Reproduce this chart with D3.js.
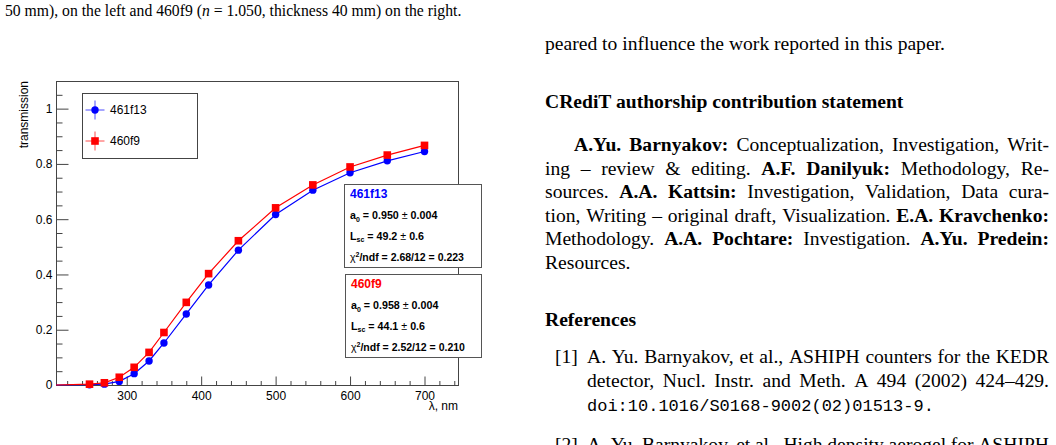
<!DOCTYPE html>
<html>
<head>
<meta charset="utf-8">
<title>Aerogel transmission</title>
<script src="https://d3js.org/d3.v7.min.js"></script>
<style>
  body { margin: 0; background: #fff; }
  .serif { font-family: "Liberation Serif", "Times New Roman", serif; }
  .sans { font-family: "Liberation Sans", Helvetica, Arial, sans-serif; }
  .mono { font-family: "Liberation Mono", "DejaVu Sans Mono", monospace; }
</style>
</head>
<body>
<script>
  // measured points, wavelength in nm
  var wavelength = [250, 270, 290, 310, 330, 350, 380, 410, 450, 500, 550, 600, 650, 700];
  var trans461f13 = [0.001, 0.003, 0.013, 0.041, 0.087, 0.152, 0.257, 0.362, 0.488, 0.617, 0.705, 0.768, 0.811, 0.845];
  var trans460f9 = [0.003, 0.008, 0.028, 0.064, 0.118, 0.190, 0.299, 0.403, 0.522, 0.641, 0.724, 0.789, 0.832, 0.867];

  var xMajor = [300, 400, 500, 600, 700];
  var yMajor = [0, 0.2, 0.4, 0.6, 0.8, 1];

  var sampleNames = ["461f13", "460f9"];
  var statA0 = ["0.950", "0.958"];
  var statA0Err = ["0.004", "0.004"];
  var statLsc = ["49.2", "44.1"];
  var statLscErr = ["0.6", "0.6"];
  var statChi = ["2.68/12 = 0.223", "2.52/12 = 0.210"];

  // page text around the figure
  var captionTail = ["50 mm), on the left and 460f9 (", "n", " = 1.050, thickness 40 mm) on the right."];
  var creditLines = [
    "**A.Yu. Barnyakov:** Conceptualization, Investigation, Writ-",
    "ing – review & editing. **A.F. Danilyuk:** Methodology, Re-",
    "sources. **A.A. Kattsin:** Investigation, Validation, Data cura-",
    "tion, Writing – original draft, Visualization. **E.A. Kravchenko:**",
    "Methodology. **A.A. Pochtare:** Investigation. **A.Yu. Predein:**",
    "Resources."
  ];
  var ref1Lines = [
    "A. Yu. Barnyakov, et al., ASHIPH counters for the KEDR",
    "detector, Nucl. Instr. and Meth. A 494 (2002) 424–429."
  ];
  var ref1Doi = "doi:10.1016/S0168-9002(02)01513-9.";
  var ref2Line = "A. Yu. Barnyakov, et al., High density aerogel for ASHIPH";

  var W = 1056, H = 445;
  var svg = d3.select("body").append("svg").attr("width", W).attr("height", H);
  svg.append("rect").attr("width", W).attr("height", H).attr("fill", "#fff");

  var bodySize = 19.6;

  //split "**bold**" markup into words made of styled pieces
  var parseWords = function(str) {
    var words = [], cur = [];
    str.split("**").forEach(function(seg, i) {
      var bold = i % 2 === 1;
      seg.split(" ").forEach(function(p, j) {
        if (j > 0) { if (cur.length) words.push(cur); cur = []; }
        if (p) cur.push({t: p, b: bold});
      });
    });
    if (cur.length) words.push(cur);
    return words;
  };

  //draw one line of words, justified between x0 and x1 if asked
  var drawLine = function(str, x0, x1, y, justify) {
    var words = parseWords(str);
    var nodes = words.map(function(w) {
      var t = svg.append("text").attr("class", "serif").attr("font-size", bodySize).attr("y", y);
      w.forEach(function(p) {
        t.append("tspan").attr("font-weight", p.b ? "bold" : "normal").text(p.t);
      });
      return t;
    });
    var widths = nodes.map(function(t) { return t.node().getComputedTextLength(); });
    var total = d3.sum(widths);
    var gap = justify && nodes.length > 1 ? (x1 - x0 - total) / (nodes.length - 1) : bodySize * 0.25;
    var x = x0;
    nodes.forEach(function(t, i) { t.attr("x", x); x += widths[i] + gap; });
  };

  //caption ending at the top left
  var cap = svg.append("text").attr("class", "serif").attr("font-size", 15.7).attr("x", 5).attr("y", 16);
  cap.append("tspan").text(captionTail[0]);
  cap.append("tspan").attr("font-style", "italic").text(captionTail[1]);
  cap.append("tspan").text(captionTail[2]);

  //right column
  var colL = 545, colR = 1049;
  drawLine("peared to influence the work reported in this paper.", colL, colR, 50, false);
  svg.append("text").attr("class", "serif").attr("font-size", bodySize).attr("font-weight", "bold")
      .attr("x", colL).attr("y", 108).text("CRediT authorship contribution statement");
  creditLines.forEach(function(l, i) {
    var last = i === creditLines.length - 1;
    drawLine(l, i === 0 ? 574 : colL, colR, 151 + i * 23.5, !last);
  });
  svg.append("text").attr("class", "serif").attr("font-size", bodySize).attr("font-weight", "bold")
      .attr("x", colL).attr("y", 326).text("References");
  svg.append("text").attr("class", "serif").attr("font-size", bodySize).attr("x", 555).attr("y", 363).text("[1]");
  ref1Lines.forEach(function(l, i) { drawLine(l, 587, colR, 363 + i * 24, true); });
  svg.append("text").attr("class", "mono").attr("font-size", 17).attr("x", 587).attr("y", 411).text(ref1Doi);
  svg.append("text").attr("class", "serif").attr("font-size", bodySize).attr("x", 555).attr("y", 451).text("[2]");
  drawLine(ref2Line, 587, colR, 451, true);

  //=== chart ===
  var fL = 56, fR = 458, fT = 81, fB = 385;
  var x = d3.scaleLinear().domain([205, 745]).range([fL, fR]);
  var y = d3.scaleLinear().domain([0, 1.1]).range([fB, fT]);
  var g = svg.append("g").attr("class", "sans");

  g.append("rect").attr("x", fL + 0.5).attr("y", fT + 0.5).attr("width", fR - fL).attr("height", fB - fT)
      .attr("fill", "none").attr("stroke", "#444");

  var xMinor = d3.range(220, 745, 20).filter(function(v) { return v % 100 !== 0; });
  var yMinor = d3.range(0.05, 1.1, 0.05).filter(function(v) { return Math.abs(v * 5 - Math.round(v * 5)) > 1e-6; });

  var gx = g.append("g").attr("transform", "translate(0," + (fB + 0.5) + ")");
  gx.call(d3.axisBottom(x).tickValues(xMajor).tickSize(-9).tickPadding(6).tickFormat(d3.format("d")));
  gx.call(function(s) { s.select(".domain").remove(); });
  var gxm = g.append("g").attr("transform", "translate(0," + (fB + 0.5) + ")");
  gxm.call(d3.axisBottom(x).tickValues(xMinor).tickSize(-4.5).tickFormat(""));
  gxm.select(".domain").remove();

  var gy = g.append("g").attr("transform", "translate(" + (fL + 0.5) + ",0)");
  gy.call(d3.axisLeft(y).tickValues(yMajor).tickSize(-12).tickPadding(4)
      .tickFormat(function(d) { return d === 0 ? "0" : d === 1 ? "1" : d3.format(".1f")(d); }));
  gy.select(".domain").remove();
  var gym = g.append("g").attr("transform", "translate(" + (fL + 0.5) + ",0)");
  gym.call(d3.axisLeft(y).tickValues(yMinor).tickSize(-6).tickFormat(""));
  gym.select(".domain").remove();

  g.selectAll(".tick text").attr("font-size", 12).attr("font-family", "Liberation Sans, Arial, sans-serif").attr("fill", "#000");
  g.selectAll(".tick line").attr("stroke", "#444");

  g.append("text").attr("x", fR).attr("y", 410).attr("text-anchor", "end").attr("font-size", 12).text("λ, nm");
  g.append("text").attr("transform", "translate(28," + fT + ") rotate(-90)").attr("text-anchor", "end")
      .attr("font-size", 12).text("transmission");

  var series = [
    {vals: trans461f13, color: "#0000ff", shape: "circle"},
    {vals: trans460f9, color: "#ff0000", shape: "square"}
  ];

  var line = d3.line().x(function(d) { return x(d[0]); }).y(function(d) { return y(d[1]); });

  var drawMarker = function(sel, shape, color, cx, cy) {
    if (shape === "circle") {
      sel.append("circle").attr("cx", cx).attr("cy", cy).attr("r", 3.7).attr("fill", color);
    } else {
      sel.append("rect").attr("x", cx - 3.8).attr("y", cy - 3.8).attr("width", 7.6).attr("height", 7.6).attr("fill", color);
    }
  };

  series.forEach(function(s) {
    var pts = wavelength.map(function(w, i) { return [w, s.vals[i]]; });
    var path = [[x.domain()[0], 0]].concat(pts);
    g.append("path").attr("d", line(path)).attr("fill", "none").attr("stroke", s.color).attr("stroke-width", 1.2);
    var mg = g.append("g");
    pts.forEach(function(p) { drawMarker(mg, s.shape, s.color, x(p[0]), y(p[1])); });
  });

  //legend
  var lg = g.append("g");
  lg.append("rect").attr("x", 82.5).attr("y", 93.5).attr("width", 115).attr("height", 65)
      .attr("fill", "#fff").attr("stroke", "#444");
  series.forEach(function(s, i) {
    var cy = 110 + i * 31, cx = 95;
    lg.append("line").attr("x1", cx - 9.5).attr("x2", cx + 9.5).attr("y1", cy).attr("y2", cy)
        .attr("stroke", s.color).attr("stroke-opacity", 0.7);
    lg.append("line").attr("x1", cx).attr("x2", cx).attr("y1", cy - 9.5).attr("y2", cy + 9.5)
        .attr("stroke", s.color).attr("stroke-opacity", 0.7);
    drawMarker(lg, s.shape, s.color, cx, cy);
    lg.append("text").attr("x", 110).attr("y", cy).attr("dy", "0.35em").attr("font-size", 12).text(sampleNames[i]);
  });

  //fit result boxes
  var boxes = [{x: 344, y: 184, w: 137, h: 83}, {x: 345, y: 274, w: 136, h: 83}];
  boxes.forEach(function(b, i) {
    var sg = g.append("g");
    sg.append("rect").attr("x", b.x + 0.5).attr("y", b.y + 0.5).attr("width", b.w).attr("height", b.h)
        .attr("fill", "#fff").attr("stroke", "#555");
    var row = b.h / 4;
    var base = function(k) { return b.y + row * (k + 0.5) + 4; };
    sg.append("text").attr("x", b.x + 6).attr("y", base(0)).attr("font-size", 12).attr("font-weight", "bold")
        .attr("fill", series[i].color).text(sampleNames[i]);

    var t1 = sg.append("text").attr("x", b.x + 6).attr("y", base(1)).attr("font-size", 10.7).attr("font-weight", "bold");
    t1.append("tspan").text("a");
    t1.append("tspan").attr("font-size", 7).attr("dy", 2.5).text("0");
    t1.append("tspan").attr("dy", -2.5).text(" = " + statA0[i] + "  ");
    t1.append("tspan").attr("font-weight", "normal").text("±");
    t1.append("tspan").text(" " + statA0Err[i]);

    var t2 = sg.append("text").attr("x", b.x + 6).attr("y", base(2)).attr("font-size", 10.7).attr("font-weight", "bold");
    t2.append("tspan").text("L");
    t2.append("tspan").attr("font-size", 7).attr("dy", 2.5).text("sc");
    t2.append("tspan").attr("dy", -2.5).text(" = " + statLsc[i] + "  ");
    t2.append("tspan").attr("font-weight", "normal").text("±");
    t2.append("tspan").text(" " + statLscErr[i]);

    var t3 = sg.append("text").attr("x", b.x + 6).attr("y", base(3)).attr("font-size", 10.5).attr("font-weight", "bold");
    t3.append("tspan").attr("font-weight", "normal").text("χ");
    t3.append("tspan").attr("font-size", 7).attr("dy", -4).text("2");
    t3.append("tspan").attr("dy", 4).text("/ndf = " + statChi[i]);
  });
</script>
</body>
</html>
